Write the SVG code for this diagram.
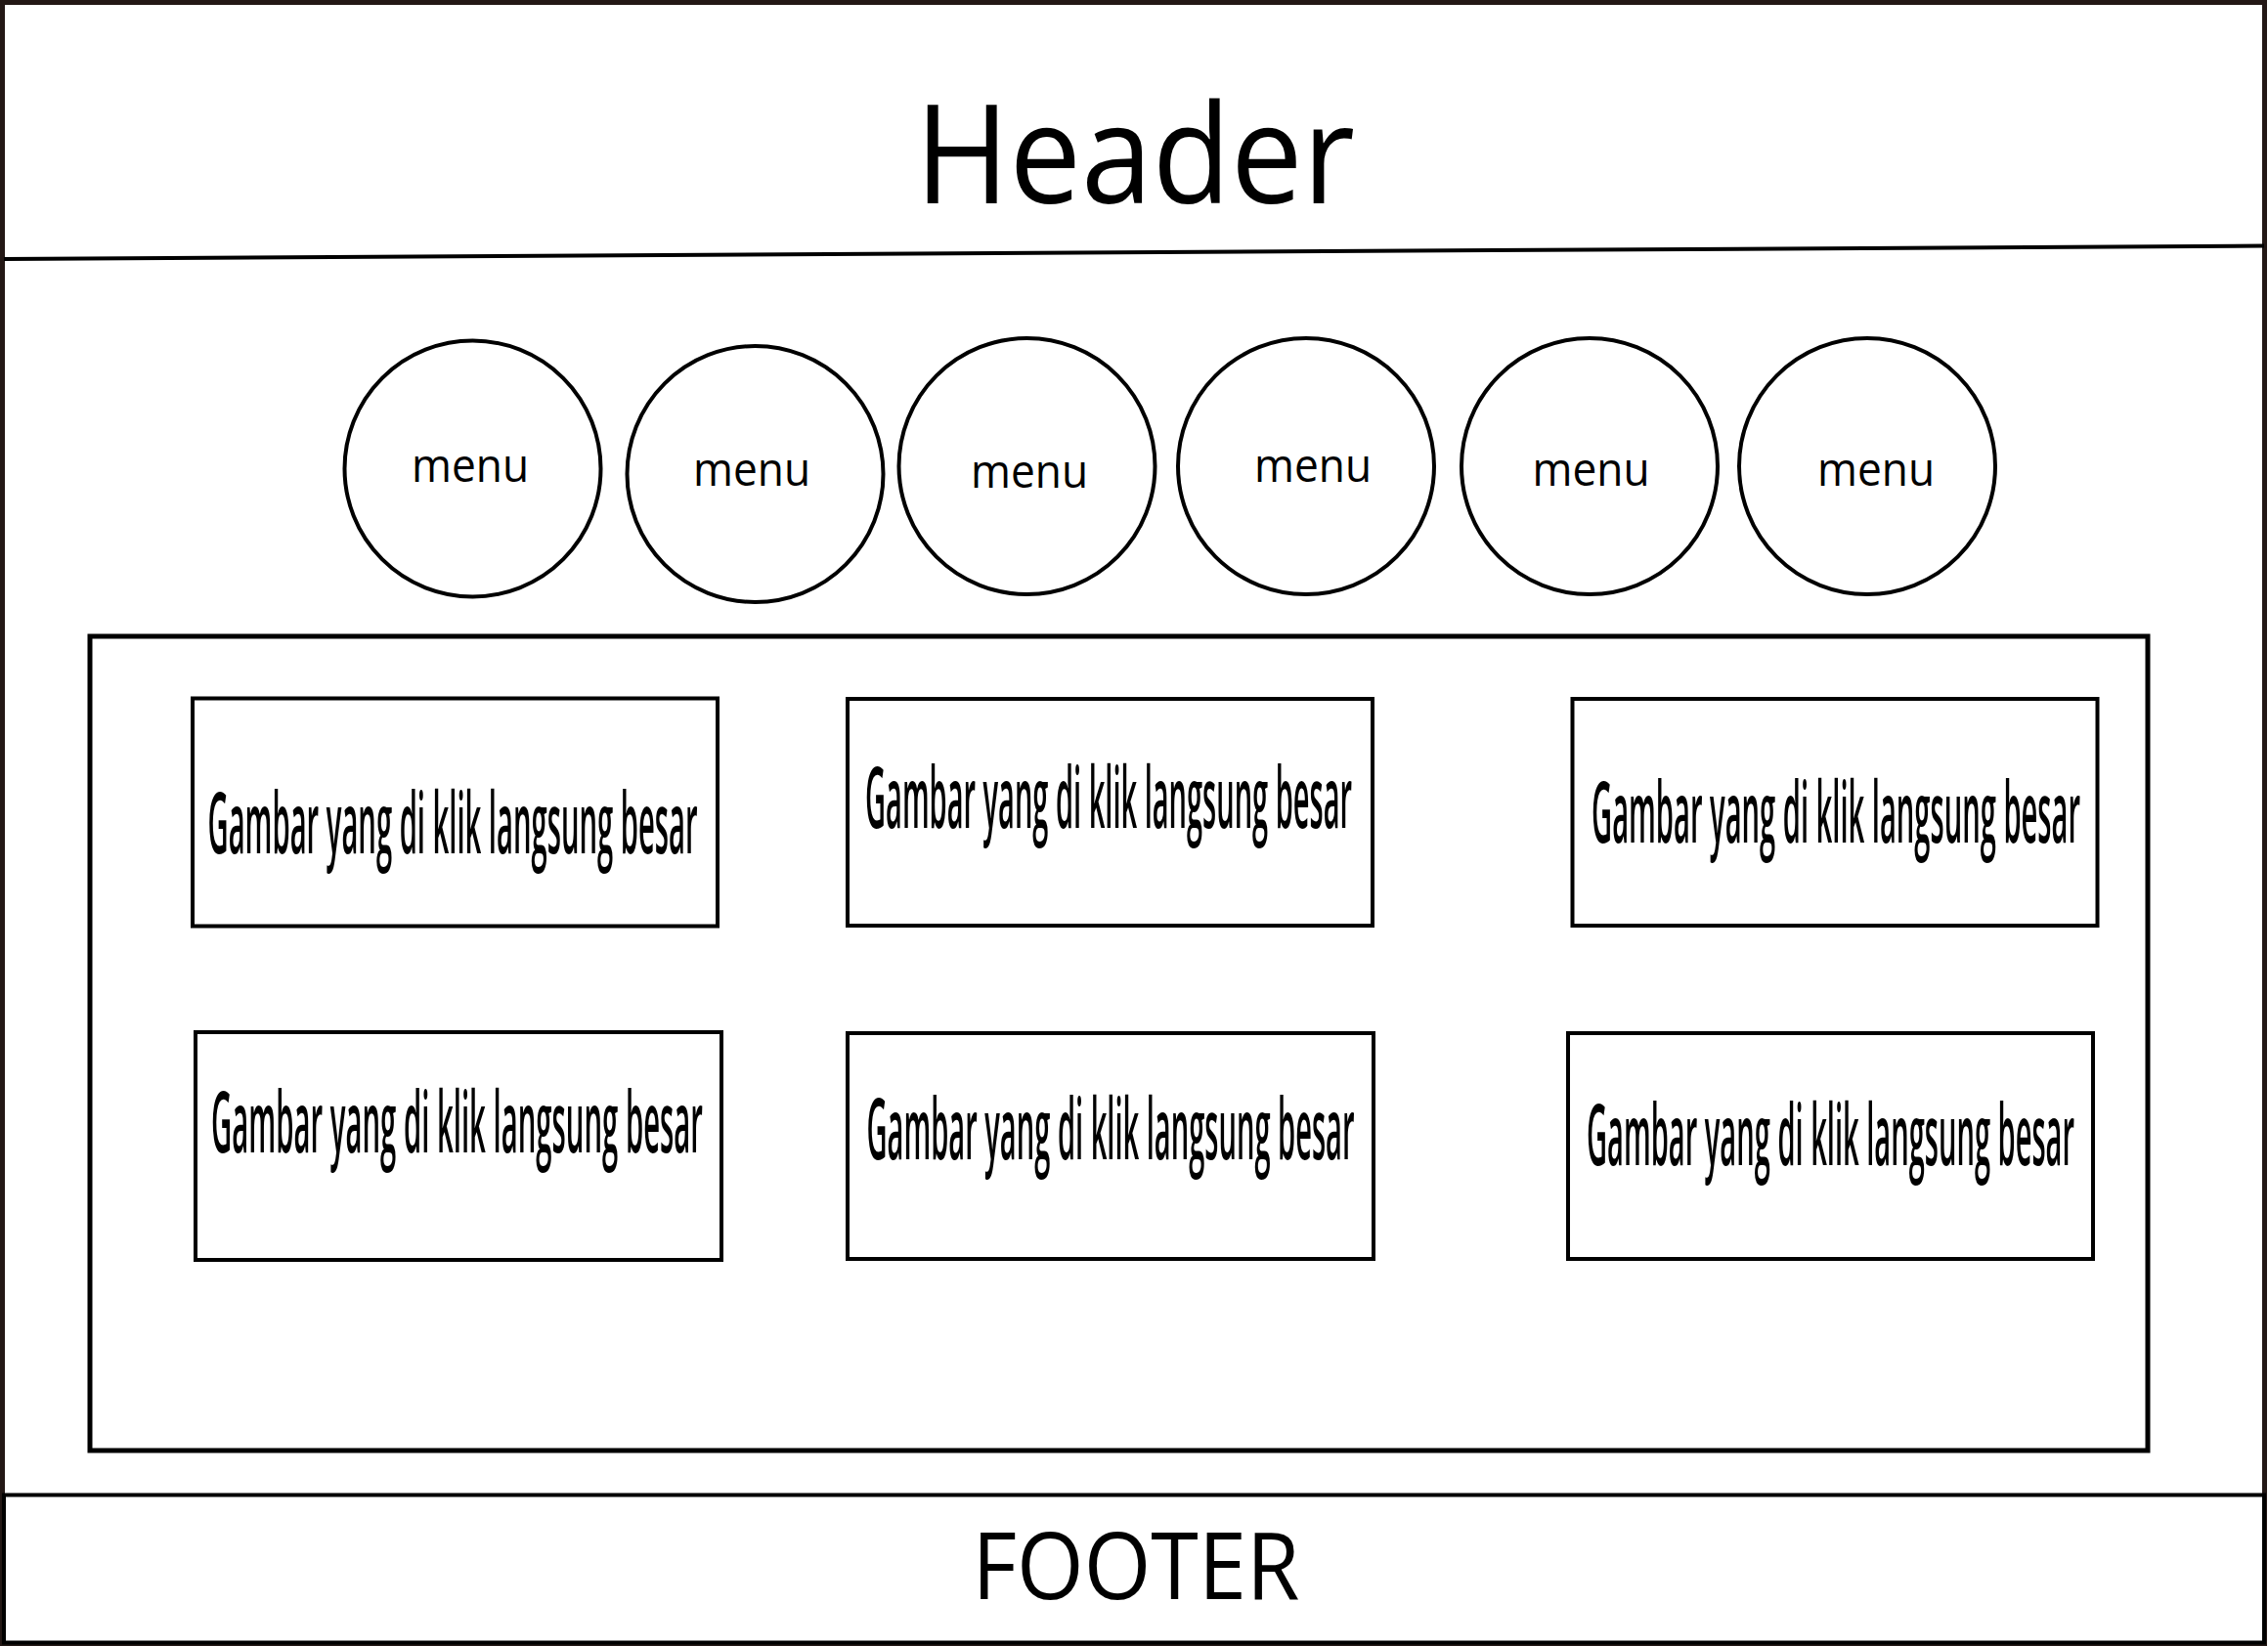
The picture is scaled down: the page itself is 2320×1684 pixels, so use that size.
<svg xmlns="http://www.w3.org/2000/svg" width="2320" height="1684" viewBox="0 0 2320 1684">
<style>
.frame{fill:#fff;stroke:#231815;stroke-width:5}
.ln{fill:none;stroke:#000;stroke-width:4}
.box{fill:#fff;stroke:#000;stroke-width:4}
.t{font-family:"Open Sans","Noto Sans","Liberation Sans",sans-serif;fill:#000;text-anchor:middle}
.menu{font-size:44px}
.img{font-size:30px;font-weight:600}
</style>
<rect class="frame" x="2.5" y="2.5" width="2314" height="1679"/>
<g id="header">
<line class="ln" x1="4" y1="265" x2="2316" y2="251.5"/>
<text class="t" x="1161" y="208" font-size="141" textLength="450" lengthAdjust="spacingAndGlyphs">Header</text>
</g>
<g id="menu1"><circle class="ln" cx="483.5" cy="479.5" r="131"/><text class="t menu" transform="translate(481,493) scale(1,1.07)" textLength="120" lengthAdjust="spacingAndGlyphs">menu</text></g>
<g id="menu2"><circle class="ln" cx="772.5" cy="485" r="131"/><text class="t menu" transform="translate(769,497) scale(1,1.07)" textLength="120" lengthAdjust="spacingAndGlyphs">menu</text></g>
<g id="menu3"><circle class="ln" cx="1050.5" cy="477" r="131"/><text class="t menu" transform="translate(1053,499) scale(1,1.07)" textLength="120" lengthAdjust="spacingAndGlyphs">menu</text></g>
<g id="menu4"><circle class="ln" cx="1336" cy="477" r="131"/><text class="t menu" transform="translate(1343,493) scale(1,1.07)" textLength="120" lengthAdjust="spacingAndGlyphs">menu</text></g>
<g id="menu5"><circle class="ln" cx="1626" cy="477" r="131"/><text class="t menu" transform="translate(1627.5,497) scale(1,1.07)" textLength="120" lengthAdjust="spacingAndGlyphs">menu</text></g>
<g id="menu6"><circle class="ln" cx="1910" cy="477" r="131"/><text class="t menu" transform="translate(1919,497) scale(1,1.07)" textLength="120" lengthAdjust="spacingAndGlyphs">menu</text></g>
<g id="content"><rect class="ln" x="92" y="651" width="2105" height="833" style="stroke-width:5"/></g>
<g id="img1"><rect class="box" x="197" y="714.5" width="537" height="233"/><text class="t img" transform="translate(463,873) scale(1,2.92)" textLength="501" lengthAdjust="spacingAndGlyphs">Gambar yang di klik langsung besar</text></g>
<g id="img2"><rect class="box" x="867" y="715" width="537" height="232"/><text class="t img" transform="translate(1134,847) scale(1,2.92)" textLength="498" lengthAdjust="spacingAndGlyphs">Gambar yang di klik langsung besar</text></g>
<g id="img3"><rect class="box" x="1608.5" y="715" width="537" height="232"/><text class="t img" transform="translate(1878,862) scale(1,2.92)" textLength="500" lengthAdjust="spacingAndGlyphs">Gambar yang di klik langsung besar</text></g>
<g id="img4"><rect class="box" x="200" y="1056" width="538" height="233"/><text class="t img" transform="translate(467.5,1179) scale(1,2.92)" textLength="503" lengthAdjust="spacingAndGlyphs">Gambar yang di klik langsung besar</text></g>
<g id="img5"><rect class="box" x="867" y="1057" width="538" height="231"/><text class="t img" transform="translate(1136,1186) scale(1,2.92)" textLength="499" lengthAdjust="spacingAndGlyphs">Gambar yang di klik langsung besar</text></g>
<g id="img6"><rect class="box" x="1604" y="1057" width="537" height="231"/><text class="t img" transform="translate(1872.5,1192) scale(1,2.92)" textLength="499" lengthAdjust="spacingAndGlyphs">Gambar yang di klik langsung besar</text></g>
<g id="footer"><rect class="box" x="4" y="1529.5" width="2312" height="151"/><text class="t" x="1162" y="1636" font-size="95" textLength="335" lengthAdjust="spacingAndGlyphs">FOOTER</text></g>
<g id="connectors"></g>
</svg>
